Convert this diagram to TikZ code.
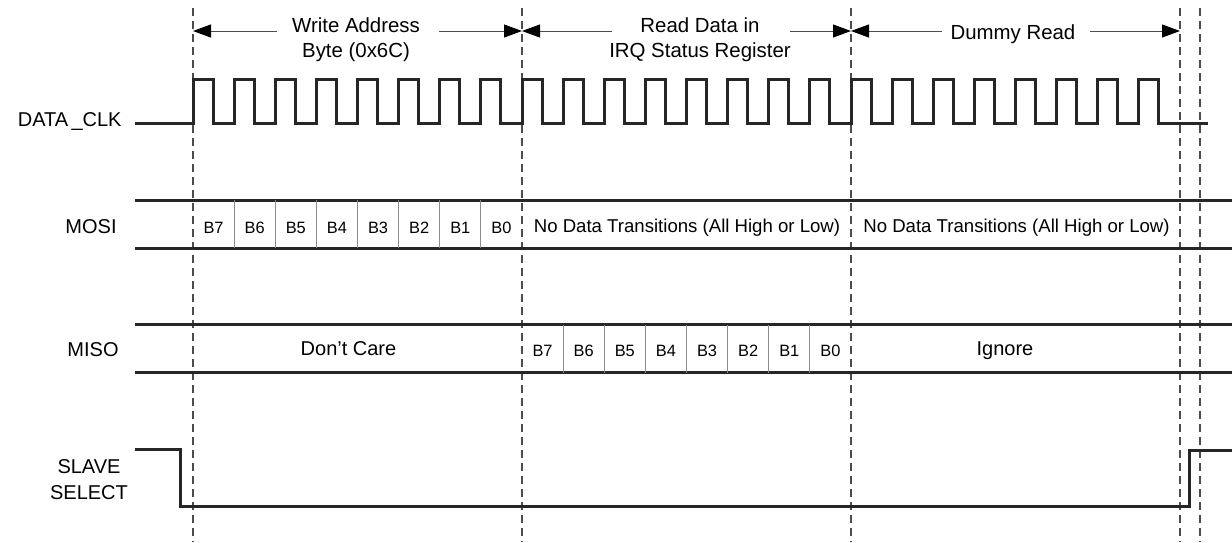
\documentclass[tikz,border=0pt]{standalone}
\usepackage{fontspec}
\setmainfont{Liberation Sans}
\usetikzlibrary{arrows.meta}
\tikzset{
    wave/.style={line width=1.5pt, black!85, line join=miter},
    guide/.style={black!70, line width=0.6pt, dash pattern=on 4pt off 2.5pt},
    cell/.style={black!45, line width=0.5pt},
    dim/.style={black!70, line width=0.5pt, -{Triangle[length=9pt,width=6.5pt,black]}},
    sig/.style={font=\fontsize{10}{13}\selectfont, inner sep=0pt},
    title/.style={font=\fontsize{10.2}{12.5}\selectfont, align=center},
    data/.style={font=\fontsize{9.3}{11}\selectfont},
    bit/.style={font=\fontsize{8.2}{10}\selectfont},
}
\begin{document}
\begin{tikzpicture}[x=0.5pt, y=-0.5pt]
                \useasboundingbox (0,0) rectangle (1232,542);
                % Section boundaries
                \foreach \x in {193,522,851,1180,1200}
                    \draw[guide] (\x,8) -- (\x,542);
                % Section titles
                \node[title] (wr) at (356,39.5) {Write Address\\Byte (0x6C)};
                \node[title] (rd) at (700,39.5) {Read Data in\\IRQ Status Register};
                \node[title, anchor=base] (dummy) at (1013,39) {Dummy Read};
                \coordinate (m0) at (193,31);
                \coordinate (m1) at (522,31);
                \coordinate (m2) at (851,31);
                \coordinate (m3) at (1180,31);
                \coordinate (wrl) at (277,31);
                \coordinate (wrr) at (439,31);
                \coordinate (rdl) at (612,31);
                \coordinate (rdr) at (790,31);
                \coordinate (dul) at (942,31);
                \coordinate (dur) at (1090,31);
                \draw[dim] (wrl) -- (m0);
                \draw[dim] (wrr) -- (m1);
                \draw[dim] (rdl) -- (m1);
                \draw[dim] (rdr) -- (m2);
                \draw[dim] (dul) -- (m2);
                \draw[dim] (dur) -- (m3);
                % Signal names
                \node[sig, anchor=base east] (clk) at (122,126) {DATA\,\_CLK};
                \node[sig, anchor=base east] (mosi) at (117,233) {MOSI};
                \node[sig, anchor=base east] (miso) at (119,356) {MISO};
                \node[sig, align=center] (ss) at (89,479.5) {SLAVE\\SELECT};
                % Clock
                \draw[wave] (135,123.5)
                    \foreach \k in {0,...,23} {
                        -- ({193+\k*41.125},123.5) -- ++(0,-44.5) -- ++(20,0) -- ++(0,44.5)
                    } -- (1208,123.5);
                % MOSI bus
                \draw[wave] (135,200) -- (1232,200);
                \draw[wave] (135,248) -- (1232,248);
                \foreach \k in {1,...,7}
                    \draw[cell] ({193+\k*41.125},200) -- ({193+\k*41.125},248);
                \foreach \b [count=\i from 0] in {7,6,...,0}
                    \node[bit, anchor=base] (mo\b) at ({193+(\i+0.5)*41.125},233) {B\b};
                \node[data, anchor=base] (nd1) at (687,232) {No Data Transitions (All High or Low)};
                \node[data, anchor=base] (nd2) at (1016.5,232) {No Data Transitions (All High or Low)};
                % MISO bus
                \draw[wave] (135,324.5) -- (1232,324.5);
                \draw[wave] (135,372.5) -- (1232,372.5);
                \foreach \k in {1,...,7}
                    \draw[cell] ({522+\k*41.125},324.5) -- ({522+\k*41.125},372.5);
                \foreach \b [count=\i from 0] in {7,6,...,0}
                    \node[bit, anchor=base] (mi\b) at ({522+(\i+0.5)*41.125},356) {B\b};
                \node[sig, anchor=base] (dc) at (348.5,355) {Don’t Care};
                \node[sig, anchor=base] (ign) at (1005,355) {Ignore};
                % Slave select
                \draw[wave] (135,449) -- (180,449) -- (180,506.5) -- (1189,506.5) -- (1189,450) -- (1232,450);
\end{tikzpicture}
\end{document}
